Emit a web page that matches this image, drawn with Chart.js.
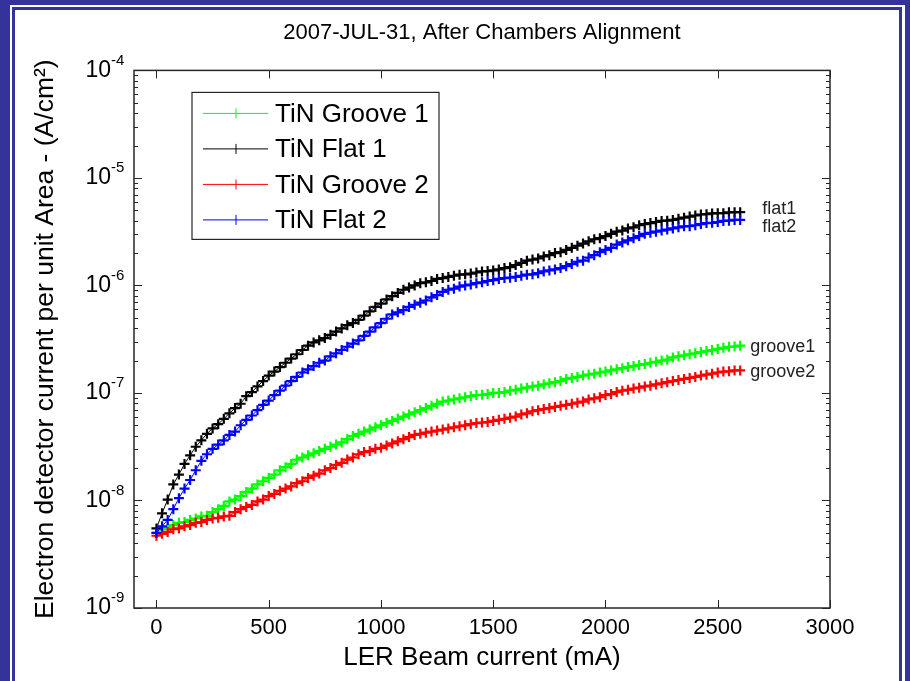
<!DOCTYPE html>
<html>
<head>
<meta charset="utf-8">
<script src="https://cdn.jsdelivr.net/npm/chart.js@4.4.0/dist/chart.umd.min.js"></script>
<style>
html, body { margin: 0; padding: 0; background: #fff; }
#wrap { position: relative; width: 910px; height: 681px; overflow: hidden; background: #fff; }
.bar { position: absolute; background: #333399; }
#c { position: absolute; left: 0; top: 0; }
</style>
</head>
<body>
<div id="wrap">
  <div class="bar" style="left:0;top:0;width:10px;height:681px"></div>
  <div class="bar" style="left:0;top:0;width:910px;height:5px"></div>
  <div class="bar" style="left:12px;top:7px;width:3px;height:681px"></div>
  <div class="bar" style="left:12px;top:7px;width:890px;height:3px"></div>
  <div class="bar" style="left:899px;top:7px;width:3px;height:681px"></div>
  <div class="bar" style="left:905px;top:0;width:5px;height:681px"></div>
  <canvas id="c" width="910" height="681"></canvas>
</div>
<script>
const chartTitle = "2007-JUL-31, After Chambers Alignment";
const xTitle = "LER Beam current (mA)";
const yTitle = "Electron detector current per unit Area - (A/cm²)";

const xTicks = [0, 500, 1000, 1500, 2000, 2500, 3000];
const yTicks = [1e-9, 1e-8, 1e-7, 1e-6, 1e-5, 1e-4];
const yTickBase = "10";
const yTickExponents = ["-9", "-8", "-7", "-6", "-5", "-4"];
const minorSteps = [2, 3, 4, 5, 6, 7, 8, 9];

const seriesNames = ["TiN Groove 1", "TiN Flat 1", "TiN Groove 2", "TiN Flat 2"];
const seriesTags = ["groove1", "flat1", "groove2", "flat2"];
const seriesColors = ["#00ff00", "#000000", "#ff0000", "#0000ff"];

const currentMA = [
  0, 25, 50, 75, 100, 125, 150, 175, 200, 225,
  250, 275, 300, 325, 350, 375, 400, 425, 450, 475,
  500, 525, 550, 575, 600, 625, 650, 675, 700, 725,
  750, 775, 800, 825, 850, 875, 900, 925, 950, 975,
  1000, 1025, 1050, 1075, 1100, 1125, 1150, 1175, 1200, 1225,
  1250, 1275, 1300, 1325, 1350, 1375, 1400, 1425, 1450, 1475,
  1500, 1525, 1550, 1575, 1600, 1625, 1650, 1675, 1700, 1725,
  1750, 1775, 1800, 1825, 1850, 1875, 1900, 1925, 1950, 1975,
  2000, 2025, 2050, 2075, 2100, 2125, 2150, 2175, 2200, 2225,
  2250, 2275, 2300, 2325, 2350, 2375, 2400, 2425, 2450, 2475,
  2500, 2525, 2550, 2575, 2600
];

const groove1 = [
  5.0e-9, 5.4e-9, 5.6e-9, 5.9e-9, 6.2e-9, 6.3e-9, 6.6e-9, 6.8e-9, 7.1e-9, 7.2e-9,
  7.8e-9, 8.3e-9, 8.9e-9, 9.8e-9, 1.02e-8, 1.10e-8, 1.20e-8, 1.29e-8, 1.41e-8, 1.51e-8,
  1.62e-8, 1.74e-8, 1.91e-8, 2.04e-8, 2.19e-8, 2.40e-8, 2.51e-8, 2.63e-8, 2.75e-8, 2.88e-8,
  3.02e-8, 3.16e-8, 3.31e-8, 3.47e-8, 3.72e-8, 3.98e-8, 4.17e-8, 4.37e-8, 4.57e-8, 4.79e-8,
  5.01e-8, 5.25e-8, 5.50e-8, 5.75e-8, 6.03e-8, 6.31e-8, 6.61e-8, 6.92e-8, 7.24e-8, 7.59e-8,
  7.94e-8, 8.32e-8, 8.51e-8, 8.71e-8, 8.91e-8, 9.12e-8, 9.33e-8, 9.55e-8, 9.60e-8, 9.77e-8,
  1.00e-7, 1.00e-7, 1.02e-7, 1.05e-7, 1.07e-7, 1.10e-7, 1.12e-7, 1.15e-7, 1.17e-7, 1.20e-7,
  1.23e-7, 1.26e-7, 1.29e-7, 1.35e-7, 1.38e-7, 1.41e-7, 1.45e-7, 1.48e-7, 1.51e-7, 1.55e-7,
  1.58e-7, 1.62e-7, 1.66e-7, 1.70e-7, 1.74e-7, 1.78e-7, 1.82e-7, 1.86e-7, 1.91e-7, 1.95e-7,
  2.00e-7, 2.04e-7, 2.14e-7, 2.19e-7, 2.24e-7, 2.29e-7, 2.34e-7, 2.40e-7, 2.45e-7, 2.51e-7,
  2.57e-7, 2.63e-7, 2.69e-7, 2.70e-7, 2.75e-7
];

const flat1 = [
  5.5e-9, 7.6e-9, 1.02e-8, 1.41e-8, 1.74e-8, 2.19e-8, 2.63e-8, 3.16e-8, 3.63e-8, 4.17e-8,
  4.68e-8, 5.13e-8, 5.75e-8, 6.46e-8, 7.24e-8, 7.94e-8, 9.33e-8, 1.02e-7, 1.15e-7, 1.29e-7,
  1.45e-7, 1.58e-7, 1.74e-7, 1.91e-7, 2.09e-7, 2.29e-7, 2.51e-7, 2.75e-7, 2.95e-7, 3.09e-7,
  3.24e-7, 3.47e-7, 3.72e-7, 3.98e-7, 4.27e-7, 4.47e-7, 4.79e-7, 5.25e-7, 5.75e-7, 6.31e-7,
  6.76e-7, 7.41e-7, 7.94e-7, 8.51e-7, 9.12e-7, 9.55e-7, 1.00e-6, 1.05e-6, 1.07e-6, 1.10e-6,
  1.15e-6, 1.17e-6, 1.20e-6, 1.23e-6, 1.26e-6, 1.27e-6, 1.29e-6, 1.32e-6, 1.35e-6, 1.36e-6,
  1.38e-6, 1.41e-6, 1.45e-6, 1.48e-6, 1.55e-6, 1.62e-6, 1.70e-6, 1.74e-6, 1.78e-6, 1.86e-6,
  1.91e-6, 2.00e-6, 2.04e-6, 2.14e-6, 2.24e-6, 2.34e-6, 2.45e-6, 2.57e-6, 2.69e-6, 2.75e-6,
  2.88e-6, 3.02e-6, 3.16e-6, 3.24e-6, 3.39e-6, 3.47e-6, 3.63e-6, 3.72e-6, 3.80e-6, 3.89e-6,
  3.98e-6, 4.00e-6, 4.07e-6, 4.17e-6, 4.27e-6, 4.37e-6, 4.47e-6, 4.57e-6, 4.60e-6, 4.68e-6,
  4.70e-6, 4.70e-6, 4.79e-6, 4.80e-6, 4.80e-6
];

const groove2 = [
  4.7e-9, 4.9e-9, 5.1e-9, 5.4e-9, 5.5e-9, 5.75e-9, 5.9e-9, 6.2e-9, 6.3e-9, 6.6e-9,
  6.8e-9, 6.9e-9, 7.1e-9, 7.2e-9, 7.8e-9, 8.3e-9, 8.7e-9, 9.1e-9, 9.8e-9, 1.02e-8,
  1.10e-8, 1.15e-8, 1.23e-8, 1.29e-8, 1.35e-8, 1.45e-8, 1.51e-8, 1.62e-8, 1.70e-8, 1.78e-8,
  1.91e-8, 2.00e-8, 2.14e-8, 2.24e-8, 2.40e-8, 2.51e-8, 2.69e-8, 2.82e-8, 2.88e-8, 3.02e-8,
  3.09e-8, 3.24e-8, 3.39e-8, 3.55e-8, 3.72e-8, 3.89e-8, 4.07e-8, 4.17e-8, 4.27e-8, 4.37e-8,
  4.47e-8, 4.57e-8, 4.68e-8, 4.79e-8, 4.90e-8, 5.00e-8, 5.13e-8, 5.25e-8, 5.30e-8, 5.37e-8,
  5.50e-8, 5.62e-8, 5.75e-8, 5.89e-8, 6.03e-8, 6.31e-8, 6.46e-8, 6.76e-8, 6.92e-8, 7.08e-8,
  7.24e-8, 7.41e-8, 7.59e-8, 7.76e-8, 7.94e-8, 8.13e-8, 8.32e-8, 8.71e-8, 8.91e-8, 9.12e-8,
  9.55e-8, 9.77e-8, 1.02e-7, 1.05e-7, 1.07e-7, 1.10e-7, 1.12e-7, 1.15e-7, 1.17e-7, 1.20e-7,
  1.23e-7, 1.26e-7, 1.29e-7, 1.32e-7, 1.35e-7, 1.38e-7, 1.41e-7, 1.45e-7, 1.48e-7, 1.51e-7,
  1.55e-7, 1.58e-7, 1.59e-7, 1.62e-7, 1.62e-7
];

const flat2 = [
  5.0e-9, 5.75e-9, 6.6e-9, 8.3e-9, 1.05e-8, 1.29e-8, 1.55e-8, 1.91e-8, 2.34e-8, 2.69e-8,
  3.02e-8, 3.31e-8, 3.63e-8, 4.07e-8, 4.37e-8, 5.01e-8, 5.62e-8, 6.17e-8, 6.92e-8, 7.76e-8,
  8.50e-8, 9.55e-8, 1.05e-7, 1.17e-7, 1.29e-7, 1.41e-7, 1.55e-7, 1.66e-7, 1.78e-7, 1.91e-7,
  2.00e-7, 2.19e-7, 2.34e-7, 2.51e-7, 2.69e-7, 2.88e-7, 3.09e-7, 3.39e-7, 3.72e-7, 4.07e-7,
  4.47e-7, 4.90e-7, 5.37e-7, 5.62e-7, 5.89e-7, 6.31e-7, 6.61e-7, 6.92e-7, 7.24e-7, 7.76e-7,
  8.13e-7, 8.71e-7, 9.12e-7, 9.33e-7, 9.77e-7, 1.00e-6, 1.02e-6, 1.05e-6, 1.07e-6, 1.10e-6,
  1.12e-6, 1.15e-6, 1.17e-6, 1.18e-6, 1.20e-6, 1.23e-6, 1.26e-6, 1.27e-6, 1.30e-6, 1.35e-6,
  1.38e-6, 1.41e-6, 1.45e-6, 1.51e-6, 1.58e-6, 1.66e-6, 1.70e-6, 1.82e-6, 1.91e-6, 2.04e-6,
  2.14e-6, 2.24e-6, 2.40e-6, 2.51e-6, 2.63e-6, 2.75e-6, 2.88e-6, 3.02e-6, 3.09e-6, 3.16e-6,
  3.24e-6, 3.31e-6, 3.39e-6, 3.47e-6, 3.55e-6, 3.56e-6, 3.63e-6, 3.72e-6, 3.80e-6, 3.82e-6,
  3.89e-6, 3.98e-6, 4.00e-6, 4.07e-6, 4.07e-6
];

const seriesValues = [groove1, flat1, groove2, flat2];
const FONT = "'Liberation Sans', Arial, Helvetica, sans-serif";

// box, inward ticks (major + log minor) like the matlab axes, exponents on y labels
const axesBox = {
  id: "axesBox",
  afterDatasetsDraw(chart) {
    const { ctx, chartArea: a, scales: { x, y } } = chart;
    ctx.save();
    ctx.strokeStyle = "#262626";
    ctx.lineWidth = 1.5;
    ctx.strokeRect(a.left, a.top, a.right - a.left, a.bottom - a.top);
    ctx.beginPath();
    for (const v of xTicks) {
      const px = Math.round(x.getPixelForValue(v)) + 0.5;
      ctx.moveTo(px, a.bottom); ctx.lineTo(px, a.bottom - 8);
      ctx.moveTo(px, a.top); ctx.lineTo(px, a.top + 8);
    }
    yTicks.forEach((v, i) => {
      const py = Math.round(y.getPixelForValue(v)) + 0.5;
      ctx.moveTo(a.left, py); ctx.lineTo(a.left + 8, py);
      ctx.moveTo(a.right, py); ctx.lineTo(a.right - 8, py);
      if (i < yTicks.length - 1) {
        for (const m of minorSteps) {
          const pm = Math.round(y.getPixelForValue(v * m)) + 0.5;
          ctx.moveTo(a.left, pm); ctx.lineTo(a.left + 4, pm);
          ctx.moveTo(a.right, pm); ctx.lineTo(a.right - 4, pm);
        }
      }
    });
    ctx.lineWidth = 1;
    ctx.stroke();

    // exponent part of the 10^n labels
    ctx.fillStyle = "#000";
    ctx.font = "15px " + FONT;
    ctx.textAlign = "left";
    ctx.textBaseline = "middle";
    yTicks.forEach((v, i) => {
      ctx.fillText(yTickExponents[i], a.left - 23, y.getPixelForValue(v) - 10);
    });
    ctx.restore();
  },
  afterDraw(chart) {
    const { ctx, chartArea: a, scales: { x, y } } = chart;
    ctx.save();
    // legend box in the upper left of the axes
    const lx = a.left + 58, ly = a.top + 22, lw = 247, lh = 147;
    ctx.fillStyle = "#fff";
    ctx.fillRect(lx, ly, lw, lh);
    ctx.strokeStyle = "#262626";
    ctx.lineWidth = 1.2;
    ctx.strokeRect(lx, ly, lw, lh);
    ctx.font = "26px " + FONT;
    ctx.textBaseline = "middle";
    ctx.textAlign = "left";
    chart.data.datasets.forEach((ds, i) => {
      const ry = ly + 21 + i * 35.5;
      ctx.strokeStyle = ds.borderColor;
      ctx.lineWidth = 1;
      ctx.beginPath();
      ctx.moveTo(lx + 11, ry); ctx.lineTo(lx + 76, ry);
      ctx.moveTo(lx + 44, ry - 5); ctx.lineTo(lx + 44, ry + 5);
      ctx.stroke();
      ctx.fillStyle = "#000";
      ctx.fillText(ds.label, lx + 83, ry + 1);
    });
    // tags at the right end of each curve
    ctx.font = "18px " + FONT;
    ctx.fillStyle = "#222";
    const nudge = { groove1: [10, 1], flat1: [22, -3], groove2: [10, 2], flat2: [22, 7] };
    seriesValues.forEach((vals, i) => {
      const n = vals.length - 1;
      const tag = seriesTags[i];
      const px = x.getPixelForValue(currentMA[n]) + nudge[tag][0];
      const py = y.getPixelForValue(vals[n]) + nudge[tag][1];
      ctx.fillText(tag, px, py);
    });
    ctx.restore();
  }
};

const datasets = seriesValues.map((vals, i) => ({
  label: seriesNames[i],
  data: currentMA.map((mA, k) => ({ x: mA, y: vals[k] })),
  borderColor: seriesColors[i],
  backgroundColor: seriesColors[i],
  borderWidth: 1,
  pointStyle: "cross",
  pointRadius: 5,
  pointBorderWidth: 2.2,
  pointBorderColor: seriesColors[i],
  tension: 0,
  fill: false,
  order: seriesValues.length - i
}));

new Chart(document.getElementById("c"), {
  type: "line",
  data: { datasets },
  options: {
    responsive: false,
    animation: false,
    layout: { padding: { left: 15, right: 80, top: 10, bottom: 0 } },
    plugins: {
      legend: { display: false },
      tooltip: { enabled: false },
      title: {
        display: true,
        text: chartTitle,
        fullSize: false,
        color: "#000",
        font: { family: FONT, size: 22, weight: "normal" },
        padding: { top: 10, bottom: 24 }
      }
    },
    scales: {
      x: {
        type: "linear",
        min: -100,
        max: 3000,
        afterBuildTicks: s => { s.ticks = xTicks.map(v => ({ value: v })); },
        afterFit: s => { s.height = 73; },
        grid: { display: false, drawTicks: false },
        border: { display: false },
        ticks: {
          color: "#000",
          font: { family: FONT, size: 22 },
          padding: 7,
          maxRotation: 0,
          autoSkip: false,
          callback: v => String(v)
        },
        title: {
          display: true,
          text: xTitle,
          color: "#000",
          font: { family: FONT, size: 26 },
          padding: { top: 0, bottom: 8 }
        }
      },
      y: {
        type: "logarithmic",
        min: 1e-9,
        max: 1e-4,
        afterBuildTicks: s => { s.ticks = yTicks.map(v => ({ value: v })); },
        afterFit: s => { s.width = 119; },
        grid: { display: false, drawTicks: false },
        border: { display: false },
        ticks: {
          color: "#000",
          font: { family: FONT, size: 23 },
          padding: 23,
          autoSkip: false,
          callback: () => yTickBase
        },
        title: {
          display: true,
          text: yTitle,
          color: "#000",
          font: { family: FONT, size: 26.5 },
          padding: { top: 15, bottom: 0 }
        }
      }
    }
  },
  plugins: [axesBox]
});
</script>
</body>
</html>
